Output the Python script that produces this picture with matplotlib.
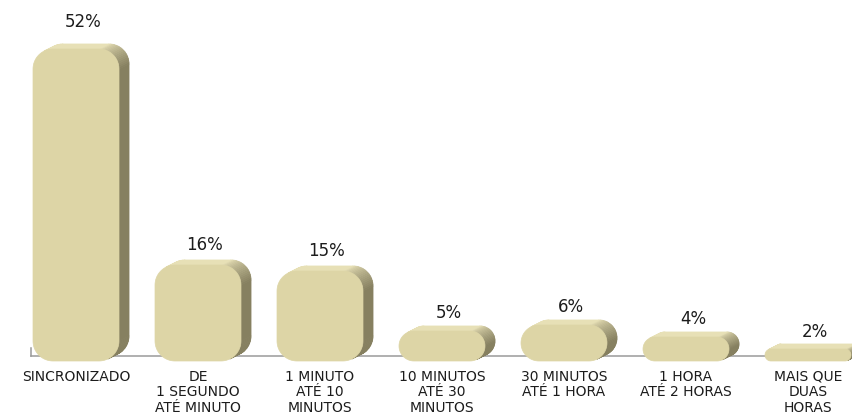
import numpy as np
import matplotlib
matplotlib.use("Agg")
import matplotlib.pyplot as plt
from matplotlib.collections import PolyCollection
from matplotlib.patches import Polygon

plt.rcParams['font.family'] = ['DejaVu Sans']

categories = [
    "SINCRONIZADO",
    "DE\n1 SEGUNDO\nATÉ MINUTO",
    "1 MINUTO\nATÉ 10\nMINUTOS",
    "10 MINUTOS\nATÉ 30\nMINUTOS",
    "30 MINUTOS\nATÉ 1 HORA",
    "1 HORA\nATÉ 2 HORAS",
    "MAIS QUE\nDUAS\nHORAS",
]
values = [52, 16, 15, 5, 6, 4, 2]
value_labels = ["52%", "16%", "15%", "5%", "6%", "4%", "2%"]

W, H, DPI = 853, 416, 100
STEP_PX = 122.0        # pixels between category centres
FIRST_PX = 76.0        # centre of first bar from left edge
BASE_PX = 361.0        # front baseline, pixels from top
PPU = 6.0              # pixels per percentage point
BAR_W_PX = 86.0
RADIUS_PX = 20.0
DEPTH = np.array([10.0, 5.0])   # extrusion offset in pixels (right, up)

FRONT = np.array([0xDD, 0xD5, 0xA6]) / 255
TOP = np.array([0xE7, 0xE0, 0xB6]) / 255
SIDE = np.array([0x86, 0x80, 0x60]) / 255

fig = plt.figure(figsize=(W / DPI, H / DPI), dpi=DPI)
ax = fig.add_axes([0, 0, 1, 1])
ax.axis('off')
ax.set_xlim(-FIRST_PX / STEP_PX, (W - FIRST_PX) / STEP_PX)
ax.set_ylim(-(H - BASE_PX) / PPU, BASE_PX / PPU)

sx, sy = STEP_PX, PPU   # data -> pixel scale factors


def rounded_outline(w, h, r, n=18):
    """Counter-clockwise outline of a rounded rectangle in pixel units,
    anchored with its bottom-centre at the origin."""
    r = min(r, w / 2, h / 2)
    pts = []
    corners = [
        (w / 2 - r, r, -90, 0),        # bottom-right
        (w / 2 - r, h - r, 0, 90),     # top-right
        (-w / 2 + r, h - r, 90, 180),  # top-left
        (-w / 2 + r, r, 180, 270),     # bottom-left
    ]
    for cx, cy, a0, a1 in corners:
        a = np.radians(np.linspace(a0, a1, n))
        pts.append(np.column_stack([cx + r * np.cos(a), cy + r * np.sin(a)]))
    return np.vstack(pts)


def to_data(pts_px, xc):
    return np.column_stack([xc + pts_px[:, 0] / sx, pts_px[:, 1] / sy])


# baseline along the back plane with a small tick at its left end
x_left = (31 - FIRST_PX) / STEP_PX
y_back = DEPTH[1] / sy
ax.plot([x_left, ax.get_xlim()[1]], [y_back, y_back], color='#9a9a9a', lw=1.1, zorder=1)
ax.plot([x_left, x_left], [y_back, y_back + 8 / sy], color='#9a9a9a', lw=1.1, zorder=1)

d_unit = DEPTH / np.linalg.norm(DEPTH)
for i, v in enumerate(values):
    outline = rounded_outline(BAR_W_PX, v * PPU, RADIUS_PX)
    quads, colors = [], []
    nxt = np.roll(outline, -1, axis=0)
    for p, q in zip(outline, nxt):
        e = q - p
        ln = np.hypot(*e)
        if ln < 1e-9:
            continue
        nrm = np.array([e[1], -e[0]]) / ln
        if nrm @ d_unit <= 0:
            continue
        ang = np.degrees(np.arctan2(nrm[0], nrm[1]))
        t = np.clip(ang / 90.0, 0, 1) ** 0.8
        c = TOP * (1 - t) + SIDE * t
        quad = np.array([p, q, q + DEPTH, p + DEPTH])
        quads.append(to_data(quad, i))
        colors.append(c)
    ax.add_collection(PolyCollection(quads, facecolors=colors, edgecolors=colors,
                                     linewidths=0.6, zorder=2))
    ax.add_patch(Polygon(to_data(outline, i), closed=True, facecolor=FRONT,
                         edgecolor=FRONT, lw=0.5, zorder=3))

    # percentage label above the bar
    ax.text(i + 7 / sx, 2 + 1.033 * v, value_labels[i], ha='center', va='baseline',
            fontsize=12, color='#1c1c1c', zorder=4)

    # category label below the baseline
    ax.text(i, -9 / sy, categories[i], ha='center', va='top', fontsize=10,
            color='#1c1c1c', linespacing=1.12, multialignment='center')

fig.savefig('out.png', dpi=DPI)
